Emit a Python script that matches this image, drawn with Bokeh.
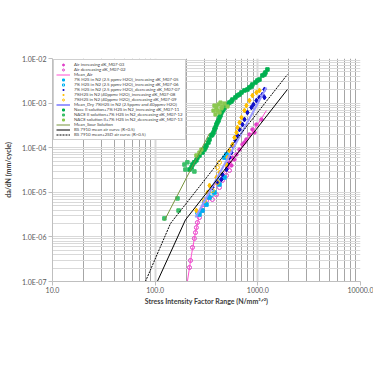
from bokeh.plotting import figure
from bokeh.models import FixedTicker, CustomJSTickFormatter
from bokeh.embed import file_html
from bokeh.resources import INLINE

# ---- data (dK in N/mm^1.5, da/dN in mm/cycle) ----
air_inc_k = [506, 529, 553, 566, 592, 619, 662, 708, 741, 774, 828, 886, 927, 969, 1084]
air_inc_d = [3.6e-5, 4.66e-5, 4.0e-5, 6.0e-5, 5.43e-5, 7.05e-5, 9.1e-5, 1.18e-4, 1.31e-4,
             1.53e-4, 1.98e-4, 2.56e-4, 2.19e-4, 3.31e-4, 4.29e-4]
air_dec_k = [216, 221, 231, 241, 247, 252, 258, 270, 289, 302, 316, 338, 361, 395, 423, 452, 495, 529]
air_dec_d = [2.06e-7, 2.96e-7, 5.8e-7, 9.2e-7, 1.25e-6, 1.62e-6, 2.1e-6, 2.72e-6, 3.9e-6,
             5.3e-6, 6.5e-6, 7.6e-6, 6.9e-6, 8.9e-6, 1.28e-5, 1.84e-5, 2.38e-5, 3.08e-5]
mean_air_k = [206, 226, 247, 270, 309, 378, 473, 662, 927, 1213]
mean_air_d = [1.0e-7, 4.03e-7, 1.25e-6, 3.18e-6, 7.26e-6, 1.42e-5, 2.78e-5, 8.65e-5, 2.56e-4, 6.83e-4]

m05_k = [270, 289, 316, 338, 378, 423, 473, 473, 495]
m05_d = [3.18e-6, 3.9e-6, 5.3e-6, 7.6e-6, 9.9e-6, 1.5e-5, 2.15e-5, 6.0e-5, 7.05e-5]
m06_k = [258, 302, 353, 404]
m06_d = [3.52e-6, 5.9e-6, 8.9e-6, 1.9e-5]
m07_k = [1160, 1109, 1037, 969, 906, 866, 792, 741, 708, 662, 633, 605, 566, 553, 529, 506,
         495, 452, 442, 404, 361, 1160]
m07_d = [2.02e-3, 1.56e-3, 1.34e-3, 1.14e-3, 9.3e-4, 8.0e-4, 6.15e-4, 4.29e-4, 3.31e-4,
         2.56e-4, 1.88e-4, 1.45e-4, 1.12e-4, 7.8e-5, 6.0e-5, 4.2e-5, 3.24e-5, 2.5e-5,
         1.94e-5, 1.66e-5, 1.28e-5, 1.34e-3]
m08_k = [1037, 969, 886, 828, 774, 741, 693, 662, 633, 619, 592, 566, 529, 506, 495, 423,
         395, 338, 323, 252]
m08_d = [1.92e-3, 1.73e-3, 1.48e-3, 1.14e-3, 8.84e-4, 6.83e-4, 4.75e-4, 3.67e-4, 2.84e-4,
         2.19e-4, 1.69e-4, 1.18e-4, 8.65e-5, 6.0e-5, 4.2e-5, 2.78e-5, 2.15e-5, 1.42e-5,
         9.9e-6, 3.9e-6]
m09_k = [302, 361, 404, 423, 404]
m09_d = [6.5e-6, 1.1e-5, 1.66e-5, 4.66e-5, 3.6e-5]
mean_dry_k = [247, 1213]
mean_dry_d = [2.72e-6, 2.24e-3]

m11_k = [1240, 1186, 1160, 1109, 1037, 991, 948, 886, 866, 828, 792, 741, 693, 662, 633,
         605, 566, 553, 529, 506, 484, 473, 462, 452, 442, 433, 423, 414, 404, 395, 387,
         378, 370, 361, 353, 338, 330, 316, 309, 302, 289, 270, 258, 252, 241, 231, 226, 216]
m11_d = [5.67e-3, 4.85e-3, 4.38e-3, 4.16e-3, 3.38e-3, 3.21e-3, 2.9e-3, 2.61e-3, 2.36e-3,
         2.24e-3, 2.02e-3, 1.92e-3, 1.73e-3, 1.56e-3, 1.48e-3, 1.34e-3, 1.2e-3, 1.09e-3,
         1.03e-3, 9.3e-4, 8.8e-4, 8.0e-4, 7.2e-4, 6.8e-4, 6.15e-4, 5.3e-4, 4.75e-4, 4.07e-4,
         3.67e-4, 3.31e-4, 2.84e-4, 2.56e-4, 2.19e-4, 1.98e-4, 1.88e-4, 1.53e-4, 1.31e-4,
         1.12e-4, 1.01e-4, 9.1e-5, 7.8e-5, 6.7e-5, 6.0e-5, 5.2e-5, 4.7e-5, 4.2e-5, 3.6e-5, 3.24e-5]
m12_k = [197, 241, 165, 169, 123, 206, 193]
m12_d = [3.24e-5, 2.93e-5, 7.3e-6, 3.9e-6, 2.6e-6, 4.7e-5, 4.2e-5]
m13_k = [378, 395, 414, 433, 452, 473, 404, 423, 442, 387, 506, 370, 270, 282, 252]
m13_d = [8.8e-4, 8.0e-4, 9.3e-4, 1.03e-3, 8.4e-4, 9.8e-4, 6.8e-4, 6.15e-4, 7.6e-4, 5.55e-4,
         8.4e-4, 6.8e-4, 7.8e-5, 9.1e-5, 6.7e-5]
mean_sour_k = [123, 338]
mean_sour_d = [2.33e-6, 2.1e-4]

bs_mean_k = [105, 197, 1942]
bs_mean_d = [1.0e-7, 2.4e-6, 2.02e-3]
bs_2sd_k = [80.4, 141, 1942]
bs_2sd_d = [1.0e-7, 2.0e-6, 4.38e-3]

x_major = [10, 100, 1000, 10000]
x_minor = [m * 10 ** e for e in (1, 2, 3) for m in range(2, 10)]
y_major = [1e-7, 1e-6, 1e-5, 1e-4, 1e-3, 1e-2]
y_minor = [m * 10.0 ** e for e in range(-7, -2) for m in range(2, 10)]

FONT = "Lato"

p = figure(frame_width=308, frame_height=223, x_axis_type="log", y_axis_type="log",
           x_range=(10, 10000), y_range=(1e-7, 1e-2),
           output_backend="svg", toolbar_location=None,
           min_border_left=45, min_border_right=13, min_border_top=58, min_border_bottom=30)
p.outline_line_color = None
p.background_fill_color = "white"
p.border_fill_color = "white"

p.xaxis.ticker = FixedTicker(ticks=x_major, minor_ticks=x_minor)
p.yaxis.ticker = FixedTicker(ticks=y_major, minor_ticks=y_minor)
p.xaxis.formatter = CustomJSTickFormatter(code="return tick.toFixed(1);")
p.yaxis.formatter = CustomJSTickFormatter(code="""
const e = Math.round(Math.log10(tick)); const a = Math.abs(e);
return '1.0E' + (e < 0 ? '-' : '+') + (a < 10 ? '0' : '') + a;""")

p.xgrid.grid_line_color = "#d9d9d9"
p.xgrid.grid_line_width = 2
p.xgrid.minor_grid_line_color = "#a6a6a6"
p.ygrid.grid_line_color = "#d9d9d9"
p.ygrid.minor_grid_line_color = "#d9d9d9"

for ax in (p.xaxis, p.yaxis):
    ax.axis_line_color = "#bfbfbf"
    ax.major_tick_line_color = "#bfbfbf"
    ax.major_tick_out = 4
    ax.major_tick_in = 0
    ax.minor_tick_line_color = None
    ax.major_label_text_font = FONT
    ax.major_label_text_font_size = "7px"
    ax.major_label_text_color = "#595959"
    ax.axis_label_text_font = FONT
    ax.axis_label_text_font_size = "7px"
    ax.axis_label_text_font_style = "bold"
    ax.axis_label_text_color = "#404040"
p.yaxis.major_label_standoff = 2
p.xaxis.major_label_standoff = 1
p.xaxis.axis_label = "Stress Intensity Factor Range (N/mm\u00b3\u141f\u00b2)"
p.yaxis.axis_label = "da/dN (mm/cycle)"
p.yaxis.axis_label_standoff = 7
p.xaxis.axis_label_standoff = 1

MAG = "#e03cc8"
p.scatter(air_inc_k, air_inc_d, marker="circle", size=3.5, color=MAG,
          legend_label="Air increasing dK_M07-03")
p.scatter(air_dec_k, air_dec_d, marker="circle", size=4, fill_color=None, line_color=MAG,
          line_width=1, legend_label="Air decreasing dK_M07-02")
p.line(mean_air_k, mean_air_d, line_color="#ff4fd0", line_width=1, legend_label="Mean_Air")
p.scatter(m05_k, m05_d, marker="square", size=3.5, color="#00b0f0",
          legend_label="7% H2S in N2 (2.5 ppmv H2O)_increasing dK_M07-05")
p.scatter(m06_k, m06_d, marker="square", size=3.5, fill_color=None, line_color="#00b0f0",
          legend_label="7% H2S in N2 (2.5 ppmv H2O)_increasing dK_M07-06")
p.scatter(m07_k, m07_d, marker="diamond", size=5, color="#1010c8",
          legend_label="7% H2S in N2 (2.5 ppmv H2O)_decreasing dK_M07-07")
p.scatter(m08_k, m08_d, marker="diamond", size=5, color="#ffc000",
          legend_label="7%H2S in N2 (40ppmv H2O)_increasing dK_M07-08")
p.scatter(m09_k, m09_d, marker="circle", size=4, fill_color=None, line_color="#ffc000",
          legend_label="7%H2S in N2 (40ppmv H2O)_decreasing dK_M07-09")
p.line(mean_dry_k, mean_dry_d, line_color="#9999ff", line_width=2,
       legend_label="Mean_Dry 7%H2S in N2 (2.5ppmv and 40ppmv H2O)")
p.scatter(m11_k, m11_d, marker="square", size=3.5, color="#00b050",
          legend_label="Nace II solution+7% H2S in N2_increasing dK_M07-11")
p.scatter(m12_k, m12_d, marker="square", size=3.5, color="#3cbf6a",
          legend_label="NACE II solution+7% H2S in N2_decreasing dK_M07-12")
p.scatter(m13_k, m13_d, marker="square", size=3.2, color="#8cc850",
          legend_label="NACE solution II+7% H2S in N2_decreasing dK_M07-13")
p.line(mean_sour_k, mean_sour_d, line_color="#77933c", line_width=1,
       legend_label="Mean_Sour Solution")
p.line(bs_mean_k, bs_mean_d, line_color="black", line_width=1,
       legend_label="BS 7910 mean air curve (R>0.5)")
p.line(bs_2sd_k, bs_2sd_d, line_color="black", line_width=1, line_dash="2 1",
       legend_label="BS 7910 mean+2SD air curve (R>0.5)")

lg = p.legend[0]
lg.location = "top_left"
lg.margin = 1
lg.padding = 2
lg.spacing = 0
lg.label_height = 5
lg.glyph_height = 5
lg.glyph_width = 14
lg.label_standoff = 4
lg.label_text_font = FONT
lg.label_text_font_size = "4.4px"
lg.label_text_color = "#404040"
lg.border_line_color = "#a0a0a0"
lg.border_line_width = 1
lg.background_fill_alpha = 1.0

open("out.html", "w").write(file_html(p, INLINE))
